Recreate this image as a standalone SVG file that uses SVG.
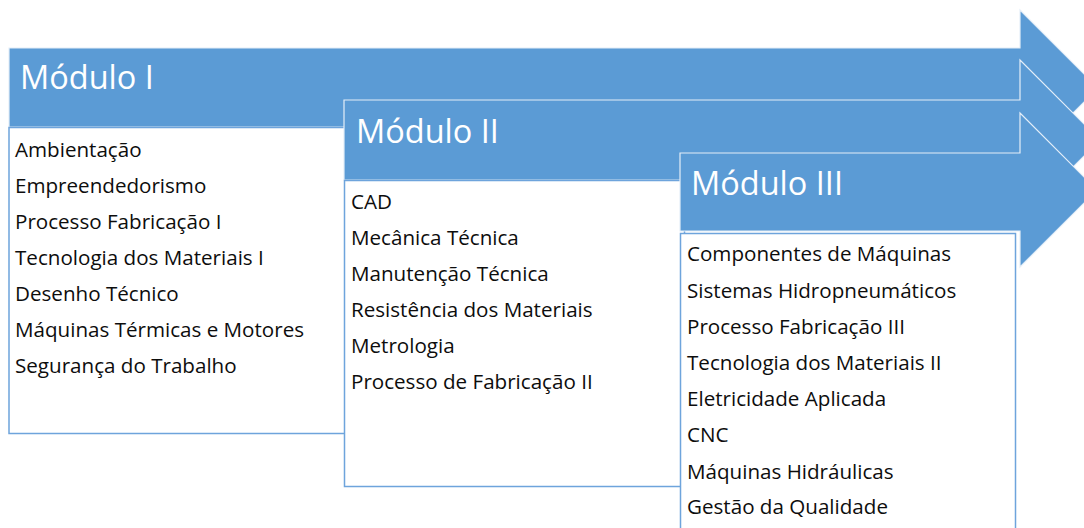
<svg xmlns="http://www.w3.org/2000/svg" width="1084" height="528" viewBox="0 0 1084 528">
<style>
.arrow{fill:#5b9bd5;stroke:#e4eef8;stroke-width:1.2}
.box{fill:#ffffff;stroke:#6ea4dc;stroke-width:1.5}
.title{font-family:"Open Sans","Liberation Sans",sans-serif;font-size:32.5px;fill:#ffffff}
.item{font-family:"Open Sans","Liberation Sans",sans-serif;font-size:20.6px;fill:#0d0d0d}
</style>
<rect width="1084" height="528" fill="#ffffff"/>
<g id="modulo1">
<polygon class="arrow" points="9,48 1020,48 1020,10 1098,88 1020,166 1020,127 9,127"/>
<text class="title" x="20" y="89">Módulo I</text>
<rect class="box" x="9" y="127.5" width="340" height="306"/>
<g class="item">
<text x="15" y="157">Ambientação</text>
<text x="15" y="193">Empreendedorismo</text>
<text x="15" y="229">Processo Fabricação I</text>
<text x="15" y="265">Tecnologia dos Materiais I</text>
<text x="15" y="301">Desenho Técnico</text>
<text x="15" y="337">Máquinas Térmicas e Motores</text>
<text x="15" y="373">Segurança do Trabalho</text>
</g>
</g>
<g id="modulo2">
<polygon class="arrow" points="344,100 1020,100 1020,60 1100,140 1020,220 1020,180 344,180"/>
<text class="title" x="356" y="143">Módulo II</text>
<rect class="box" x="344.5" y="180.5" width="340" height="306"/>
<g class="item">
<text x="351" y="209">CAD</text>
<text x="351" y="245">Mecânica Técnica</text>
<text x="351" y="281">Manutenção Técnica</text>
<text x="351" y="317">Resistência dos Materiais</text>
<text x="351" y="353">Metrologia</text>
<text x="351" y="389">Processo de Fabricação II</text>
</g>
</g>
<g id="modulo3">
<polygon class="arrow" points="680,153 1020,153 1020,113 1097,190 1020,267 1020,231 680,231"/>
<text class="title" x="691" y="195">Módulo III</text>
<rect class="box" x="680.5" y="233.5" width="335" height="310"/>
<g class="item">
<text x="687" y="261">Componentes de Máquinas</text>
<text x="687" y="298">Sistemas Hidropneumáticos</text>
<text x="687" y="334">Processo Fabricação III</text>
<text x="687" y="370">Tecnologia dos Materiais II</text>
<text x="687" y="406">Eletricidade Aplicada</text>
<text x="687" y="442">CNC</text>
<text x="687" y="479">Máquinas Hidráulicas</text>
<text x="687" y="514">Gestão da Qualidade</text>
</g>
</g>
<g id="connectors"></g>
</svg>
